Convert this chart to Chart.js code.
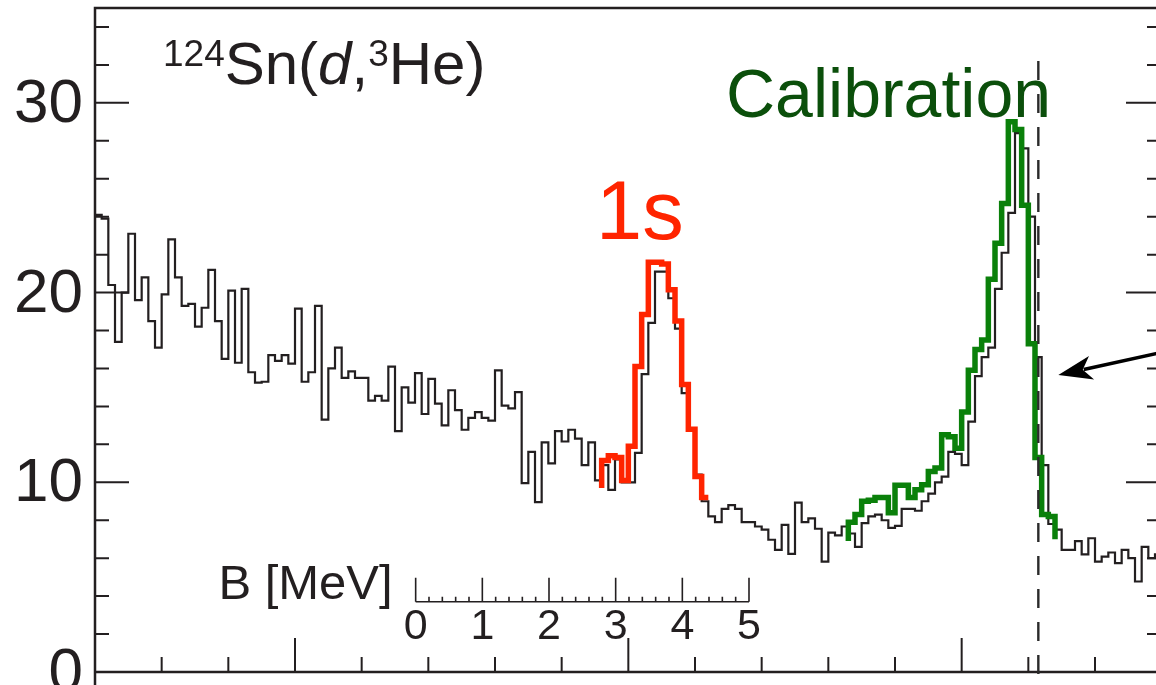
<!DOCTYPE html>
<html>
<head>
<meta charset="utf-8">
<script src="https://cdn.jsdelivr.net/npm/chart.js@4.4.1/dist/chart.umd.min.js"></script>
<style>
  html, body { margin: 0; padding: 0; background: #fff; overflow: hidden; }
  #wrap { width: 1156px; height: 685px; overflow: hidden; }
</style>
</head>
<body>
<div id="wrap"><canvas id="myChart" width="1160" height="685"></canvas></div>
<script>
// DATOS: un valor por canal del espectro

const blackCounts = [
  24.1, 23.9, 20.4, 17.4, 20.0, 23.1, 19.6, 20.8, 18.5, 17.1,
  19.9, 22.8, 20.8, 19.3, 19.4, 18.2, 19.2, 21.2, 18.5, 16.5,
  20.1, 16.3, 20.2, 15.8, 15.25, 15.3, 16.7, 16.4, 16.7, 16.25,
  19.15, 15.3, 15.8, 19.3, 13.3, 16.0, 17.1, 15.5, 15.85, 15.5,
  15.5, 14.3, 14.55, 14.3, 16.1, 12.7, 15.0, 14.2, 15.75, 13.6,
  15.45, 14.15, 13.0, 14.85, 13.8, 12.77, 13.4, 13.7, 13.4, 13.25,
  15.9, 14.04, 13.9, 14.75, 9.96, 11.6, 8.95, 12.1, 11.0, 12.7,
  12.15, 12.77, 12.3, 10.9, 12.1, 10.1, 10.9, 9.6, 11.2, 10.0,
  10.0, 11.55, 15.7, 18.4, 21.1, 21.1, 19.7, 18.1, 14.7, 12.77,
  10.4, 9.0, 8.2, 7.9, 8.6, 8.8, 8.6, 7.9, 7.9, 7.67,
  7.5, 6.97, 6.44, 7.76, 6.23, 8.93, 7.9, 8.1, 7.55, 5.82,
  7.35, 7.2, 7.67, 7.3, 6.6, 7.85, 8.2, 8.3, 8.0, 7.6,
  7.7, 8.6, 8.6, 8.5, 9.0, 9.4, 10.0, 10.3, 11.6, 11.5,
  10.9, 13.2, 15.6, 16.6, 17.1, 20.2, 22.1, 24.2, 28.4, 27.6,
  24.0, 16.6, 10.9, 7.8, 7.5, 6.44, 6.44, 6.9, 6.2, 7.05,
  5.82, 6.08, 6.3, 5.74, 6.44, 6.0, 4.77, 6.6, 6.0, 6.2
];

// pico 1s (rojo)
const redStart = 76;
const redEntry = 9.7;
const redCounts = [
  11.15, 11.4, 11.3, 10.1, 11.9, 16.1, 18.85, 21.6, 21.6, 21.5,
  20.15, 18.5, 15.15, 12.8, 10.3, 9.2
];

// pico de calibracion (verde)
const greenStart = 113;
const greenEntry = 6.9;
const greenCounts = [
  7.9, 8.3, 9.0, 9.05, 9.2, 9.2, 8.4, 9.85, 9.85, 9.2,
  9.6, 9.87, 10.57, 10.75, 12.5, 12.4, 11.8, 13.7, 15.9, 17.0,
  17.5, 20.7, 22.6, 24.7, 29.0, 28.6, 24.6, 17.3, 11.3, 8.3,
  8.2
];
const greenExit = 7.0;

// EJES
const yTickLabels = ['0', '10', '20', '30'];
const yMajorStep = 10;
const yMinorStep = 2;
const xTickStep = 10;
const xLongTicks = [30, 80, 130];
const bScaleLabels = ['0', '1', '2', '3', '4', '5'];
const bScaleZero = 48.1;      // canal donde B = 0
const channelsPerMeV = 10;
const bScaleLevel = 3.7;      // altura de la escala B
const calibrationChannel = 141.5;
const dashTop = 32.2;
const arrowTail = { x: 162, y: 17.0 };
const arrowTip = { x: 144.5, y: 15.65 };

const ink = '#231f20';
const rojo = '#ff2400';
const verde = '#0a800a';
const verdeTexto = '#0b4f0b';
const fuente = "'Liberation Sans', Arial, sans-serif";

function histoPoints(start, counts, entry, exit) {
  const pts = [];
  if (entry !== undefined) pts.push({ x: start, y: entry });
  counts.forEach((v, i) => pts.push({ x: start + i, y: v }));
  const end = start + counts.length;
  pts.push({ x: end, y: counts[counts.length - 1] });
  if (exit !== undefined) pts.push({ x: end, y: exit });
  return pts;
}

const marcoPlugin = {
  id: 'marco',
  afterDraw(chart) {
    const { ctx, chartArea: a, scales: { x, y } } = chart;
    ctx.save();
    ctx.strokeStyle = ink;
    ctx.fillStyle = ink;

    // marco
    ctx.lineWidth = 2.5;
    ctx.beginPath();
    ctx.moveTo(a.right, a.top);
    ctx.lineTo(a.left, a.top);
    ctx.lineTo(a.left, chart.height);
    ctx.moveTo(a.left, a.bottom);
    ctx.lineTo(a.right, a.bottom);
    ctx.stroke();

    // ticks eje y (izq y der)
    ctx.lineWidth = 2;
    ctx.beginPath();
    for (let v = 0; v < y.max; v += yMinorStep) {
      const py = y.getPixelForValue(v);
      const mayor = v % yMajorStep === 0;
      ctx.moveTo(a.left, py); ctx.lineTo(a.left + (mayor ? 34 : 14), py);
      ctx.moveTo(a.right, py); ctx.lineTo(a.right - (mayor ? 32 : 11), py);
    }
    // ticks eje x
    for (let c = xTickStep; c < x.max; c += xTickStep) {
      const px = x.getPixelForValue(c);
      const len = xLongTicks.includes(c) ? 34 : 15;
      ctx.moveTo(px, a.bottom); ctx.lineTo(px, a.bottom - len);
    }
    ctx.stroke();

    // etiquetas eje y
    ctx.font = '62px ' + fuente;
    ctx.textAlign = 'right';
    ctx.textBaseline = 'middle';
    yTickLabels.forEach((t, i) => {
      ctx.fillText(t, a.left - 12, y.getPixelForValue(i * yMajorStep) + 2);
    });

    // escala B [MeV]
    const by = y.getPixelForValue(bScaleLevel);
    const bx0 = x.getPixelForValue(bScaleZero);
    const bx5 = x.getPixelForValue(bScaleZero + 5 * channelsPerMeV);
    ctx.lineWidth = 1.6;
    ctx.beginPath();
    ctx.moveTo(bx0, by); ctx.lineTo(bx5, by);
    for (let k = 0; k <= 25; k++) {
      const px = x.getPixelForValue(bScaleZero + k * channelsPerMeV / 5);
      ctx.moveTo(px, by);
      ctx.lineTo(px, by - (k % 5 === 0 ? 24 : 5));
    }
    ctx.stroke();
    ctx.font = '43px ' + fuente;
    ctx.textAlign = 'center';
    ctx.textBaseline = 'alphabetic';
    bScaleLabels.forEach((t, i) => {
      ctx.fillText(t, x.getPixelForValue(bScaleZero + i * channelsPerMeV), by + 37);
    });
    ctx.font = '49px ' + fuente;
    ctx.textAlign = 'right';
    ctx.fillText('B [MeV]', bx0 - 23, by - 3);

    // titulo 124Sn(d,3He)
    ctx.textAlign = 'left';
    let tx = 163;
    const piezas = [
      ['124', '37px ', 66],
      ['Sn(', '60px ', 84],
      ['d', 'italic 60px ', 84],
      [',', '60px ', 84],
      ['3', '37px ', 66],
      ['He)', '60px ', 84]
    ];
    piezas.forEach(([t, f, base]) => {
      ctx.font = f + fuente;
      ctx.fillText(t, tx, base);
      tx += ctx.measureText(t).width;
    });

    // 1s
    ctx.fillStyle = rojo;
    ctx.font = '83px ' + fuente;
    ctx.fillText('1s', 596, 239);

    // Calibration
    ctx.fillStyle = verdeTexto;
    ctx.font = '68px ' + fuente;
    ctx.fillText('Calibration', 726, 117);

    // linea discontinua
    const dx = x.getPixelForValue(calibrationChannel);
    ctx.strokeStyle = '#2a2a2a';
    ctx.lineWidth = 2.4;
    ctx.setLineDash([19, 14]);
    ctx.beginPath();
    ctx.moveTo(dx, y.getPixelForValue(dashTop));
    ctx.lineTo(dx, chart.height);
    ctx.stroke();
    ctx.setLineDash([]);

    // flecha
    const t0x = x.getPixelForValue(arrowTail.x), t0y = y.getPixelForValue(arrowTail.y);
    const t1x = x.getPixelForValue(arrowTip.x), t1y = y.getPixelForValue(arrowTip.y);
    const ang = Math.atan2(t1y - t0y, t1x - t0x);
    const head = 34, half = 12;
    const hbx = t1x - head * Math.cos(ang), hby = t1y - head * Math.sin(ang);
    ctx.strokeStyle = '#000';
    ctx.fillStyle = '#000';
    ctx.lineWidth = 3.5;
    ctx.beginPath();
    ctx.moveTo(t0x, t0y);
    ctx.lineTo(hbx + 8 * Math.cos(ang), hby + 8 * Math.sin(ang));
    ctx.stroke();
    ctx.beginPath();
    ctx.moveTo(t1x, t1y);
    ctx.lineTo(hbx - half * Math.sin(ang), hby + half * Math.cos(ang));
    ctx.lineTo(hbx + 9 * Math.cos(ang), hby + 9 * Math.sin(ang));
    ctx.lineTo(hbx + half * Math.sin(ang), hby - half * Math.cos(ang));
    ctx.closePath();
    ctx.fill();

    ctx.restore();
  }
};

const ctx = document.getElementById('myChart').getContext('2d');
const config = {
  type: 'line',
  data: {
    datasets: [
      {
        label: '1s',
        data: histoPoints(redStart, redCounts, redEntry),
        borderColor: rojo,
        borderWidth: 5.5,
        stepped: true,
        pointRadius: 0,
        fill: false,
        borderJoinStyle: 'miter',
        order: 0
      },
      {
        label: 'Calibration',
        data: histoPoints(greenStart, greenCounts, greenEntry, greenExit),
        borderColor: verde,
        borderWidth: 5.5,
        stepped: true,
        pointRadius: 0,
        fill: false,
        borderJoinStyle: 'miter',
        order: 0
      },
      {
        label: '124Sn(d,3He)',
        data: histoPoints(0, blackCounts),
        borderColor: ink,
        borderWidth: 2.2,
        stepped: true,
        pointRadius: 0,
        fill: false,
        borderJoinStyle: 'miter',
        order: 1
      }
    ]
  },
  options: {
    responsive: false,
    animation: false,
    devicePixelRatio: 1,
    layout: { padding: { left: 95, top: 8, right: 2, bottom: 13 } },
    scales: {
      x: { type: 'linear', min: 0, max: 159.45, display: false },
      y: { min: 0, max: 35, display: false }
    },
    plugins: { legend: { display: false }, tooltip: { enabled: false } }
  },
  plugins: [marcoPlugin]
};
let myChart = new Chart(ctx, config);
</script>
</body>
</html>
